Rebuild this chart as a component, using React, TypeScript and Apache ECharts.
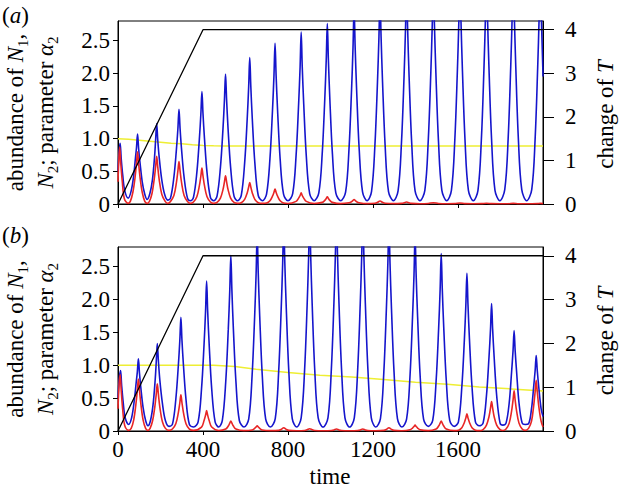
import React, { useEffect, useRef } from "react";
import * as echarts from "echarts";

// ---------- tick labels ----------
const timeTicks = [0, 400, 800, 1200, 1600];
const leftTicks = [0, 0.5, 1.0, 1.5, 2.0, 2.5];
const rightTicks = [0, 1, 2, 3, 4];

// ---------- panel (a) ----------
const tempA = [[0, 0], [400, 4], [2000, 4]];
const alphaA = [
  [0, 1.0], [50, 0.99], [100, 0.975], [150, 0.96], [200, 0.945], [250, 0.93],
  [300, 0.92], [350, 0.905], [400, 0.895], [450, 0.89], [500, 0.888], [2000, 0.888],
];
const n1A = [
  [0, 0.5], [5, 0.8], [10, 0.93], [15, 0.7], [22, 0.45], [32, 0.2], [48, 0.09],
  [62, 0.2], [74, 0.44], [82, 0.7], [87, 0.86], [92, 1.07], [97, 0.85], [104, 0.62], [114, 0.34], [126, 0.15], [137, 0.07],
  [150, 0.16], [162, 0.37], [172, 0.72], [177, 0.98], [182, 1.23], [187, 0.98], [194, 0.71], [206, 0.37], [220, 0.14], [234, 0.06],
  [247, 0.09], [263, 0.41], [275, 0.84], [282, 1.16], [287, 1.45], [292, 1.16], [299, 0.84], [311, 0.41], [327, 0.09], [341, 0.05],
  [355, 0.1], [371, 0.48], [383, 1.0], [390, 1.38], [395, 1.72], [400, 1.38], [407, 1.0], [419, 0.48], [435, 0.1], [450, 0.05],
  [466, 0.12], [482, 0.56], [494, 1.15], [501, 1.6], [506, 1.99], [511, 1.6], [518, 1.15], [530, 0.56], [546, 0.12], [563, 0.05],
  [580, 0.13], [596, 0.63], [608, 1.3], [615, 1.8], [620, 2.24], [625, 1.8], [632, 1.3], [644, 0.63], [660, 0.13], [680, 0.05],
  [699, 0.15], [715, 0.69], [727, 1.43], [734, 1.97], [739, 2.46], [744, 1.97], [751, 1.43], [763, 0.69], [779, 0.15], [800, 0.05],
  [822, 0.16], [838, 0.74], [850, 1.53], [857, 2.1], [862, 2.63], [867, 2.1], [874, 1.53], [886, 0.74], [902, 0.16], [923, 0.05],
  [945, 0.17], [961, 0.77], [973, 1.6], [980, 2.21], [985, 2.76], [990, 2.21], [997, 1.6], [1009, 0.77], [1025, 0.17], [1048, 0.05],
  [1071, 0.18], [1087, 0.84], [1099, 1.74], [1106, 2.4], [1111, 3.0], [1116, 2.4], [1123, 1.74], [1135, 0.84], [1151, 0.18], [1172, 0.05],
  [1193, 0.19], [1209, 0.9], [1221, 1.86], [1228, 2.56], [1233, 3.2], [1238, 2.56], [1245, 1.86], [1257, 0.9], [1273, 0.19], [1296, 0.05],
  [1318, 0.2], [1334, 0.94], [1346, 1.94], [1353, 2.68], [1358, 3.35], [1363, 2.68], [1370, 1.94], [1382, 0.94], [1398, 0.2], [1421, 0.05],
  [1444, 0.21], [1460, 0.97], [1472, 2.0], [1479, 2.76], [1484, 3.45], [1489, 2.76], [1496, 2.0], [1508, 0.97], [1524, 0.21], [1547, 0.05],
  [1569, 0.21], [1585, 0.98], [1597, 2.03], [1604, 2.8], [1609, 3.5], [1614, 2.8], [1621, 2.03], [1633, 0.98], [1649, 0.21], [1672, 0.05],
  [1694, 0.21], [1710, 0.99], [1722, 2.06], [1729, 2.84], [1734, 3.55], [1739, 2.84], [1746, 2.06], [1758, 0.99], [1774, 0.21], [1797, 0.05],
  [1820, 0.22], [1836, 1.0], [1848, 2.09], [1855, 2.88], [1860, 3.6], [1865, 2.88], [1872, 2.09], [1884, 1.0], [1900, 0.22], [1923, 0.05],
  [1947, 0.22], [1963, 1.0], [1975, 2.09], [1982, 2.88], [1987, 3.6], [1992, 2.88], [1999, 2.09], [2000, 1.95],
];
const n2A = [
  [0, 0.34], [4, 0.68], [8, 0.87], [13, 0.62], [20, 0.35], [30, 0.08], [48, 0.01],
  [58, 0.04], [70, 0.18], [80, 0.4], [87, 0.62], [92, 0.8], [97, 0.62], [104, 0.4], [114, 0.18], [126, 0.04], [137, 0.01],
  [148, 0.04], [160, 0.16], [170, 0.37], [177, 0.57], [182, 0.73], [187, 0.57], [194, 0.37], [206, 0.15], [222, 0.04], [234, 0.01],
  [247, 0.04], [263, 0.13], [275, 0.33], [282, 0.51], [287, 0.65], [292, 0.51], [299, 0.33], [311, 0.13], [327, 0.04], [341, 0.01],
  [355, 0.03], [371, 0.11], [383, 0.28], [390, 0.43], [395, 0.55], [400, 0.43], [407, 0.28], [419, 0.11], [435, 0.03], [450, 0.01],
  [466, 0.025], [482, 0.09], [494, 0.22], [501, 0.34], [506, 0.43], [511, 0.34], [518, 0.22], [530, 0.09], [546, 0.025], [563, 0.01],
  [580, 0.02], [596, 0.07], [608, 0.17], [615, 0.26], [620, 0.33], [625, 0.26], [632, 0.17], [644, 0.07], [660, 0.02], [680, 0.01],
  [699, 0.015], [715, 0.05], [727, 0.12], [734, 0.18], [739, 0.23], [744, 0.18], [751, 0.12], [763, 0.05], [779, 0.015], [800, 0.008],
  [838, 0.04], [850, 0.09], [857, 0.13], [862, 0.17], [867, 0.13], [874, 0.09], [886, 0.04], [923, 0.008],
  [961, 0.025], [973, 0.055], [980, 0.085], [985, 0.11], [990, 0.085], [997, 0.055], [1009, 0.025], [1048, 0.006],
  [1087, 0.018], [1099, 0.035], [1106, 0.055], [1111, 0.07], [1116, 0.055], [1123, 0.035], [1135, 0.018], [1172, 0.005],
  [1209, 0.012], [1221, 0.025], [1233, 0.045], [1245, 0.025], [1257, 0.012], [1296, 0.005],
  [1334, 0.01], [1346, 0.018], [1358, 0.03], [1370, 0.018], [1382, 0.01], [1421, 0.004],
  [1460, 0.008], [1484, 0.02], [1508, 0.008], [1547, 0.004],
  [1585, 0.006], [1609, 0.015], [1633, 0.006], [1672, 0.004],
  [1710, 0.005], [1734, 0.012], [1758, 0.005], [1797, 0.003],
  [1836, 0.004], [1860, 0.01], [1884, 0.004], [1923, 0.003],
  [1975, 0.006], [1987, 0.01], [2000, 0.006],
];

// ---------- panel (b) ----------
const tempB = [[0, 0], [400, 4], [2000, 4]];
const alphaB = [
  [0, 1.0], [300, 1.0], [450, 1.0], [550, 0.98], [650, 0.94], [800, 0.89], [950, 0.85],
  [1100, 0.82], [1250, 0.785], [1400, 0.74], [1550, 0.71], [1700, 0.67], [1850, 0.64], [2000, 0.61],
];
const n1B = [
  [0, 0.5], [6, 0.8], [12, 0.92], [17, 0.7], [24, 0.45], [34, 0.2], [50, 0.1],
  [64, 0.2], [76, 0.45], [86, 0.75], [91, 0.9], [96, 1.1], [101, 0.88], [108, 0.64], [118, 0.36], [130, 0.16], [141, 0.08],
  [153, 0.16], [165, 0.4], [175, 0.78], [180, 1.05], [185, 1.33], [190, 1.07], [197, 0.77], [209, 0.42], [223, 0.16], [240, 0.07],
  [256, 0.1], [272, 0.48], [284, 1.0], [291, 1.38], [296, 1.73], [301, 1.38], [308, 1.0], [320, 0.48], [336, 0.1], [356, 0.06],
  [377, 0.14], [393, 0.64], [405, 1.32], [412, 1.82], [417, 2.28], [422, 1.82], [429, 1.32], [441, 0.64], [457, 0.14], [474, 0.06],
  [491, 0.16], [507, 0.75], [519, 1.55], [526, 2.14], [531, 2.67], [536, 2.14], [543, 1.55], [555, 0.75], [571, 0.16], [593, 0.06],
  [615, 0.18], [631, 0.84], [643, 1.74], [650, 2.4], [655, 3.0], [660, 2.4], [667, 1.74], [679, 0.84], [695, 0.18], [717, 0.06],
  [740, 0.19], [756, 0.9], [768, 1.86], [775, 2.56], [780, 3.2], [785, 2.56], [792, 1.86], [804, 0.9], [820, 0.19], [841, 0.06],
  [862, 0.2], [878, 0.92], [890, 1.91], [897, 2.64], [902, 3.3], [907, 2.64], [914, 1.91], [926, 0.92], [942, 0.2], [965, 0.06],
  [988, 0.2], [1004, 0.94], [1016, 1.94], [1023, 2.68], [1028, 3.35], [1033, 2.68], [1040, 1.94], [1052, 0.94], [1068, 0.2], [1090, 0.06],
  [1112, 0.2], [1128, 0.94], [1140, 1.94], [1147, 2.68], [1152, 3.35], [1157, 2.68], [1164, 1.94], [1176, 0.94], [1192, 0.2], [1213, 0.06],
  [1235, 0.19], [1251, 0.9], [1263, 1.86], [1270, 2.56], [1275, 3.2], [1280, 2.56], [1287, 1.86], [1299, 0.9], [1315, 0.19], [1336, 0.06],
  [1358, 0.18], [1374, 0.83], [1386, 1.73], [1393, 2.38], [1398, 2.98], [1403, 2.38], [1410, 1.73], [1422, 0.83], [1438, 0.18], [1460, 0.07],
  [1481, 0.16], [1497, 0.76], [1509, 1.57], [1516, 2.16], [1521, 2.7], [1526, 2.16], [1533, 1.57], [1545, 0.76], [1561, 0.16], [1582, 0.07],
  [1602, 0.14], [1618, 0.67], [1630, 1.39], [1637, 1.92], [1642, 2.4], [1647, 1.92], [1654, 1.39], [1666, 0.67], [1682, 0.14], [1700, 0.08],
  [1718, 0.12], [1734, 0.54], [1746, 1.13], [1753, 1.55], [1758, 1.94], [1763, 1.55], [1770, 1.13], [1782, 0.54], [1798, 0.12], [1811, 0.09],
  [1826, 0.12], [1841, 0.43], [1852, 0.89], [1859, 1.22], [1864, 1.53], [1869, 1.22], [1876, 0.89], [1887, 0.43], [1902, 0.12], [1916, 0.1],
  [1932, 0.11], [1946, 0.34], [1956, 0.67], [1963, 0.92], [1968, 1.15], [1973, 0.92], [1980, 0.67], [1991, 0.34], [2000, 0.22],
];
const n2B = [
  [0, 0.34], [5, 0.7], [10, 0.86], [15, 0.62], [22, 0.33], [32, 0.08], [50, 0.01],
  [62, 0.04], [74, 0.17], [84, 0.4], [91, 0.62], [96, 0.79], [101, 0.62], [108, 0.4], [118, 0.17], [130, 0.04], [141, 0.01],
  [151, 0.04], [163, 0.16], [173, 0.36], [180, 0.56], [185, 0.72], [190, 0.56], [197, 0.36], [209, 0.14], [223, 0.04], [240, 0.01],
  [256, 0.03], [272, 0.11], [284, 0.28], [291, 0.43], [296, 0.55], [301, 0.43], [308, 0.28], [320, 0.11], [336, 0.03], [356, 0.01],
  [393, 0.06], [405, 0.16], [412, 0.24], [417, 0.31], [422, 0.24], [429, 0.16], [441, 0.06], [474, 0.008],
  [507, 0.03], [519, 0.075], [526, 0.12], [531, 0.15], [536, 0.12], [543, 0.075], [555, 0.03], [593, 0.006],
  [631, 0.016], [643, 0.04], [650, 0.062], [655, 0.08], [660, 0.062], [667, 0.04], [679, 0.016], [717, 0.005],
  [756, 0.01], [768, 0.025], [780, 0.05], [792, 0.025], [804, 0.01], [841, 0.004],
  [878, 0.008], [890, 0.018], [902, 0.035], [914, 0.018], [926, 0.008], [965, 0.004],
  [1004, 0.007], [1016, 0.015], [1028, 0.03], [1040, 0.015], [1052, 0.007], [1090, 0.004],
  [1128, 0.007], [1140, 0.015], [1152, 0.03], [1164, 0.015], [1176, 0.007], [1213, 0.004],
  [1251, 0.01], [1263, 0.025], [1275, 0.05], [1287, 0.025], [1299, 0.01], [1336, 0.004],
  [1374, 0.018], [1386, 0.045], [1393, 0.07], [1398, 0.09], [1403, 0.07], [1410, 0.045], [1422, 0.018], [1460, 0.005],
  [1497, 0.03], [1509, 0.075], [1516, 0.12], [1521, 0.15], [1526, 0.12], [1533, 0.075], [1545, 0.03], [1582, 0.006],
  [1602, 0.013], [1618, 0.05], [1630, 0.13], [1637, 0.2], [1642, 0.26], [1647, 0.2], [1654, 0.13], [1666, 0.05], [1682, 0.013], [1700, 0.006],
  [1718, 0.022], [1734, 0.09], [1746, 0.22], [1753, 0.35], [1758, 0.45], [1763, 0.35], [1770, 0.22], [1782, 0.09], [1798, 0.022], [1811, 0.008],
  [1826, 0.03], [1841, 0.12], [1852, 0.3], [1859, 0.47], [1864, 0.61], [1869, 0.47], [1876, 0.3], [1887, 0.12], [1902, 0.03], [1916, 0.01],
  [1932, 0.04], [1946, 0.15], [1956, 0.38], [1963, 0.6], [1968, 0.77], [1973, 0.6], [1980, 0.38], [1991, 0.15], [2000, 0.06],
];

const FONT = "Liberation Serif";
const FS = 23;
const BLUE = "#1515cc";
const RED = "#e82525";
const YELLOW = "#eeee33";
const BLACK = "#000000";

export default function App() {
  const ref = useRef<HTMLDivElement>(null);

  useEffect(() => {
    if (!ref.current) return;
    const chart = echarts.init(ref.current, undefined, { renderer: "svg" });

    const panels = [
      { top: 21, height: 183 },
      { top: 247, height: 184 },
    ];

    const grids = panels.map((p) => ({
      left: 118,
      top: p.top,
      width: 425,
      height: p.height,
      show: true,
      borderColor: "#000",
      borderWidth: 1,
      backgroundColor: "transparent",
      containLabel: false,
    }));

    const labelStyle = { fontFamily: FONT, fontSize: FS, color: "#000" };

    const xAxes = panels.map((_, i) => ({
      type: "value",
      gridIndex: i,
      min: 0,
      max: 2000,
      axisLine: { show: true, lineStyle: { color: "#000", width: 1 } },
      axisTick: { show: true, customValues: timeTicks, length: 4, inside: false, lineStyle: { color: "#000" } },
      axisLabel:
        i === 0
          ? { show: false }
          : { show: true, customValues: timeTicks, margin: 7, formatter: (v: number) => String(v), ...labelStyle },
      splitLine: { show: false },
    }));

    const yAxes: any[] = [];
    panels.forEach((_, i) => {
      yAxes.push({
        type: "value",
        gridIndex: i,
        position: "left",
        min: 0,
        max: 2.8,
        axisLine: { show: true, lineStyle: { color: "#000", width: 1 } },
        axisTick: { show: true, customValues: leftTicks, length: 5, lineStyle: { color: "#000" } },
        axisLabel: {
          show: true,
          customValues: leftTicks,
          margin: 8,
          formatter: (v: number) => (v === 0 ? "0" : v.toFixed(1)),
          ...labelStyle,
        },
        splitLine: { show: false },
      });
      yAxes.push({
        type: "value",
        gridIndex: i,
        position: "right",
        min: 0,
        max: 4.2,
        axisLine: { show: true, lineStyle: { color: "#000", width: 1 } },
        axisTick: { show: true, customValues: rightTicks, length: 11, lineStyle: { color: "#000" } },
        axisLabel: { show: true, customValues: rightTicks, margin: 22, formatter: (v: number) => String(v), ...labelStyle },
        splitLine: { show: false },
      });
    });

    const line = (data: number[][], xi: number, yi: number, color: string, width: number, z: number, smooth: number) => ({
      type: "line",
      xAxisIndex: xi,
      yAxisIndex: yi,
      data,
      showSymbol: false,
      symbol: "none",
      smooth,
      clip: true,
      z,
      lineStyle: { color, width },
      emphasis: { disabled: true },
    });

    const series = [
      line(alphaA, 0, 0, YELLOW, 1.5, 2, 0),
      line(n1A, 0, 0, BLUE, 1.6, 3, 0.35),
      line(n2A, 0, 0, RED, 1.6, 4, 0.35),
      line(tempA, 0, 1, BLACK, 1.3, 5, 0),
      line(alphaB, 1, 2, YELLOW, 1.5, 2, 0),
      line(n1B, 1, 2, BLUE, 1.6, 3, 0.35),
      line(n2B, 1, 2, RED, 1.6, 4, 0.35),
      line(tempB, 1, 3, BLACK, 1.3, 5, 0),
    ];

    const rich = {
      r: { fontFamily: FONT, fontSize: FS, lineHeight: 30, verticalAlign: "middle" as const },
      i: { fontFamily: FONT, fontSize: FS, fontStyle: "italic" as const, lineHeight: 30, verticalAlign: "middle" as const },
      s: { fontFamily: FONT, fontSize: 15, verticalAlign: "bottom" as const },
    };

    const rotText = (x: number, y: number, text: string) => ({
      type: "text",
      x,
      y,
      rotation: Math.PI / 2,
      style: { text, rich, fill: "#000", align: "center", verticalAlign: "middle", fontFamily: FONT, fontSize: FS },
    });

    const graphics: any[] = [];
    panels.forEach((p, i) => {
      const cy = p.top + p.height / 2;
      graphics.push(rotText(15, cy, "{r|abundance of }{i|N}{s|1}{r|,}"));
      graphics.push(rotText(45, cy, "{i|N}{s|2}{r|; parameter }{i|α}{s|2}"));
      graphics.push(rotText(605, cy + 2, "{r|change of }{i|T}"));
      graphics.push({
        type: "text",
        x: 2,
        y: i === 0 ? 15 : 235,
        style: { text: i === 0 ? "{r|(}{i|a}{r|)}" : "{r|(}{i|b}{r|)}", rich, fill: "#000", align: "left", verticalAlign: "middle" },
      });
    });
    graphics.push({
      type: "text",
      x: 330,
      y: 476,
      style: { text: "time", fill: "#000", fontFamily: FONT, fontSize: FS, align: "center", verticalAlign: "middle" },
    });

    chart.setOption({
      animation: false,
      backgroundColor: "#ffffff",
      grid: grids,
      xAxis: xAxes,
      yAxis: yAxes,
      series,
      graphic: graphics,
    } as any);

    return () => chart.dispose();
  }, []);

  return <div ref={ref} style={{ position: "fixed", left: 0, top: 0, width: 619, height: 498 }} />;
}
